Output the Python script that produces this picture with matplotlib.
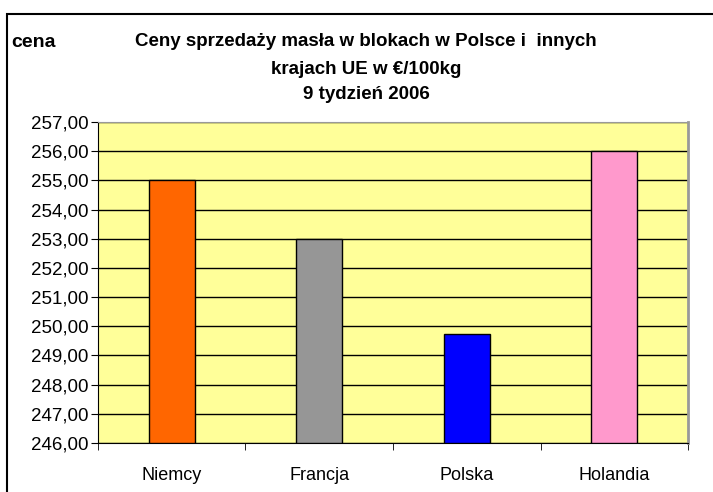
import matplotlib.pyplot as plt
from matplotlib.patches import Rectangle
from matplotlib.ticker import FuncFormatter, FixedLocator

# chart data
countries = ["Niemcy", "Francja", "Polska", "Holandia"]
prices = [255.0, 253.0, 249.75, 256.0]
bar_colors = ["#FF6600", "#969696", "#0000FF", "#FF99CC"]
title_lines = ["Ceny sprzedaży masła w blokach w Polsce i  innych",
               "krajach UE w €/100kg",
               "9 tydzień 2006"]

plt.rcParams['font.family'] = ['Liberation Sans', 'DejaVu Sans']

fig = plt.figure(figsize=(7.13, 4.92), dpi=100)
ax = fig.add_axes([0.1374, 0.0996, 0.8276, 0.6524])

# outer chart border
fig.patches.append(Rectangle((7 / 713, -0.1), 1.2, (492 - 14) / 492 + 0.1,
                             transform=fig.transFigure, fill=False,
                             edgecolor="black", linewidth=1.5))

x = list(range(len(countries)))
ax.bar(x, [p - 246 for p in prices], bottom=246, width=0.31,
       color=bar_colors, edgecolor="black", linewidth=1.0, zorder=3)

ax.set_xlim(-0.5, 3.5)
ax.set_ylim(246, 257)
ax.set_facecolor("#FFFF99")
ax.set_yticks(range(246, 258))
ax.yaxis.set_major_formatter(FuncFormatter(lambda v, p: f"{v:.2f}".replace(".", ",")))
ax.yaxis.grid(True, color="black", linewidth=1.0, zorder=1)
ax.set_axisbelow(True)

ax.set_xticks(x)
ax.set_xticklabels(countries, fontsize=13)
ax.tick_params(axis="x", length=0, pad=17)
ax.xaxis.set_minor_locator(FixedLocator([-0.5, 0.5, 1.5, 2.5, 3.5]))
ax.tick_params(axis="x", which="minor", length=5, direction="out", color="black")
ax.tick_params(axis="y", labelsize=13.5, length=5, direction="out", pad=2)

ax.spines["top"].set_color("#999999")
ax.spines["right"].set_color("#999999")
ax.spines["right"].set_linewidth(2)
ax.spines["left"].set_color("black")
ax.spines["bottom"].set_color("black")

fig.text(11 / 713, 1 - 47 / 492, "cena", fontsize=14, fontweight="bold",
         ha="left", va="baseline")
# title lines, baselines
rows = [46, 74, 99]
for line, cy in zip(title_lines, rows):
    fig.text(366 / 713, 1 - cy / 492, line, fontsize=13.5, fontweight="bold",
             ha="center", va="baseline")

fig.savefig("out.png", dpi=100)
